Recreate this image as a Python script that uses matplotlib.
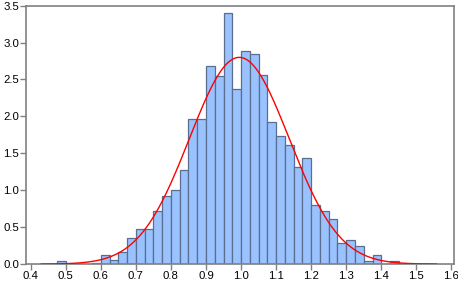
import numpy as np
import matplotlib
matplotlib.use('Agg')
import matplotlib.pyplot as plt

# histogram bin left edges (width 0.025) and density heights
bin_width = 0.025
bin_lefts = [0.475, 0.500, 0.525, 0.550, 0.575, 0.600, 0.625, 0.650, 0.675,
             0.700, 0.725, 0.750, 0.775, 0.800, 0.825, 0.850, 0.875, 0.900,
             0.925, 0.950, 0.975, 1.000, 1.025, 1.050, 1.075, 1.100, 1.125,
             1.150, 1.175, 1.200, 1.225, 1.250, 1.275, 1.300, 1.325, 1.350,
             1.375, 1.400, 1.425]
densities = [0.045, 0.0, 0.0, 0.0, 0.02, 0.13, 0.05, 0.16, 0.36,
             0.48, 0.48, 0.72, 0.92, 1.00, 1.28, 1.96, 1.96, 2.68,
             2.55, 3.40, 2.37, 2.88, 2.84, 2.56, 1.92, 1.73, 1.61,
             1.32, 1.44, 0.80, 0.72, 0.61, 0.28, 0.33, 0.24, 0.045,
             0.13, 0.0, 0.045]

# fitted normal density
mu = 0.995
sigma = 0.1425
curve_range = (0.43, 1.557)

x_ticks = [0.4, 0.5, 0.6, 0.7, 0.8, 0.9, 1.0, 1.1, 1.2, 1.3, 1.4, 1.5, 1.6]
y_ticks = [0.0, 0.5, 1.0, 1.5, 2.0, 2.5, 3.0, 3.5]

plt.rcParams['font.family'] = ['Liberation Sans', 'DejaVu Sans']

fig = plt.figure(figsize=(4.58, 2.81), dpi=100)
ax = fig.add_axes([0.057, 0.06, 0.934, 0.92])

ax.bar(bin_lefts, densities, width=bin_width, align='edge',
       color='#99c2ff', edgecolor='#5a6f8f', linewidth=0.9, zorder=2)

xs = np.linspace(curve_range[0], curve_range[1], 400)
pdf = np.exp(-0.5 * ((xs - mu) / sigma) ** 2) / (sigma * np.sqrt(2 * np.pi))
ax.plot(xs, pdf, color='#ff0000', linewidth=1.0, zorder=3)

ax.set_xlim(0.387, 1.607)
ax.set_ylim(0, 3.5)
ax.set_xticks(x_ticks)
ax.set_xticklabels([f'{t:.1f}' for t in x_ticks])
ax.set_yticks(y_ticks)
ax.set_yticklabels([f'{t:.1f}' for t in y_ticks])

for s in ax.spines.values():
    s.set_color('#808080')
    s.set_linewidth(1.2)
ax.tick_params(axis='both', colors='#808080', labelcolor='#000000',
               labelsize=8.2, length=4, width=1, direction='out', pad=1)

fig.savefig('out.png', dpi=100)
